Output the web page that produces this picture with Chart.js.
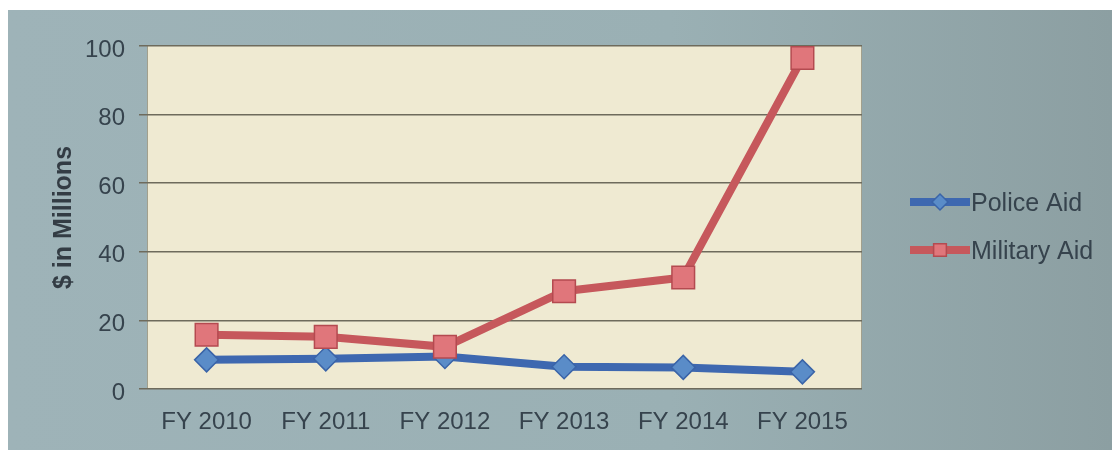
<!DOCTYPE html>
<html>
<head>
<meta charset="utf-8">
<title>Police and Military Aid</title>
<script src="https://cdn.jsdelivr.net/npm/chart.js@4.4.1/dist/chart.umd.min.js"></script>
<style>
  html, body { margin: 0; padding: 0; background: #fff; }
  canvas { display: block; }
</style>
</head>
<body>
<canvas id="aid-chart" width="1112" height="450"></canvas>
<script>
  // fiscal years on the x axis
  const fiscalYears = ["FY 2010", "FY 2011", "FY 2012", "FY 2013", "FY 2014", "FY 2015"];
  // aid amounts, $ in millions
  const policeAid = [8.5, 8.8, 9.5, 6.5, 6.3, 5];
  const militaryAid = [15.8, 15.2, 12.3, 28.5, 32.5, 96.5];
  const seriesNames = ["Police Aid", "Military Aid"];
  // y axis range
  const yMin = 0;
  const yMax = 100;
  const yStep = 20;

  const labelFont = "'Liberation Sans', Arial, Helvetica, sans-serif";
  const textColor = "#36434d";

  // slate backdrop + cream plot panel
  const panelPlugin = {
    id: "panel",
    beforeDraw(chart) {
      const { ctx, chartArea: a, width, height } = chart;
      ctx.save();
      ctx.fillStyle = "#ffffff";
      ctx.fillRect(0, 0, width, height);
      const g = ctx.createLinearGradient(8, 0, width, 0);
      g.addColorStop(0, "#9eb3b8");
      g.addColorStop(0.6, "#9ab0b4");
      g.addColorStop(1, "#8c9fa2");
      ctx.fillStyle = g;
      ctx.fillRect(8, 10, width - 8, height - 10);
      ctx.fillStyle = "#efead2";
      ctx.fillRect(a.left, a.top, a.right - a.left, a.bottom - a.top);
      ctx.strokeStyle = "rgba(110,110,95,0.6)";
      ctx.lineWidth = 1;
      ctx.beginPath();
      ctx.moveTo(a.left + 0.5, a.top);
      ctx.lineTo(a.left + 0.5, a.bottom);
      ctx.moveTo(a.right - 0.5, a.top);
      ctx.lineTo(a.right - 0.5, a.bottom);
      ctx.stroke();
      ctx.restore();
    }
  };

  // legend on the right: line with marker, then the series name
  const sideLegendPlugin = {
    id: "sideLegend",
    afterDraw(chart) {
      const { ctx } = chart;
      const rows = [202, 250];
      ctx.save();
      chart.data.datasets.forEach((ds, i) => {
        const y = rows[i];
        ctx.strokeStyle = ds.borderColor;
        ctx.lineWidth = 8;
        ctx.lineCap = "butt";
        ctx.beginPath();
        ctx.moveTo(910, y);
        ctx.lineTo(970, y);
        ctx.stroke();
        ctx.fillStyle = ds.pointBackgroundColor;
        ctx.strokeStyle = ds.pointBorderColor;
        ctx.lineWidth = 1.5;
        Chart.helpers.drawPoint(ctx, {
          pointStyle: ds.pointStyle,
          radius: ds.pointStyle === "rect" ? 9 : 8,
          rotation: 0,
          borderWidth: 1.5
        }, 940, y);
        ctx.fillStyle = textColor;
        ctx.font = "25px " + labelFont;
        ctx.textBaseline = "middle";
        ctx.textAlign = "left";
        ctx.fillText(ds.label, 971, y + 2);
      });
      ctx.restore();
    }
  };

  new Chart(document.getElementById("aid-chart"), {
    type: "line",
    data: {
      labels: fiscalYears,
      datasets: [
        {
          label: seriesNames[0],
          data: policeAid,
          order: 2,
          borderColor: "#3e68b0",
          borderWidth: 8,
          pointStyle: "rectRot",
          pointRadius: 12,
          pointBackgroundColor: "#5a8cc8",
          pointBorderColor: "#3a64a8",
          pointBorderWidth: 1.5,
          tension: 0
        },
        {
          label: seriesNames[1],
          data: militaryAid,
          order: 1,
          borderColor: "#c6585c",
          borderWidth: 8,
          pointStyle: "rect",
          pointRadius: 16,
          pointBackgroundColor: "#e0767b",
          pointBorderColor: "#b44a50",
          pointBorderWidth: 1.5,
          tension: 0
        }
      ]
    },
    options: {
      responsive: false,
      animation: false,
      layout: { padding: { top: 46, right: 250, bottom: 0, left: 0 } },
      plugins: {
        legend: { display: false },
        tooltip: { enabled: false }
      },
      scales: {
        x: {
          offset: true,
          afterFit: (s) => { s.height = 61; },
          grid: { display: false, drawTicks: false },
          border: { display: false },
          ticks: {
            padding: 19,
            color: textColor,
            font: { family: labelFont, size: 24 }
          }
        },
        y: {
          min: yMin,
          max: yMax,
          afterFit: (s) => { s.width = 147; },
          grid: {
            color: "#6e6b5c",
            lineWidth: 1.5,
            drawTicks: true,
            tickLength: 8,
            tickColor: "#6e6b5c"
          },
          border: { display: false },
          ticks: {
            stepSize: yStep,
            padding: 14,
            labelOffset: 4,
            color: textColor,
            font: { family: labelFont, size: 24 }
          },
          title: {
            display: true,
            text: "$ in Millions",
            color: "#333c44",
            padding: { top: 49, bottom: 0 },
            font: { family: labelFont, size: 25, weight: "bold" }
          }
        }
      }
    },
    plugins: [panelPlugin, sideLegendPlugin]
  });
</script>
</body>
</html>
